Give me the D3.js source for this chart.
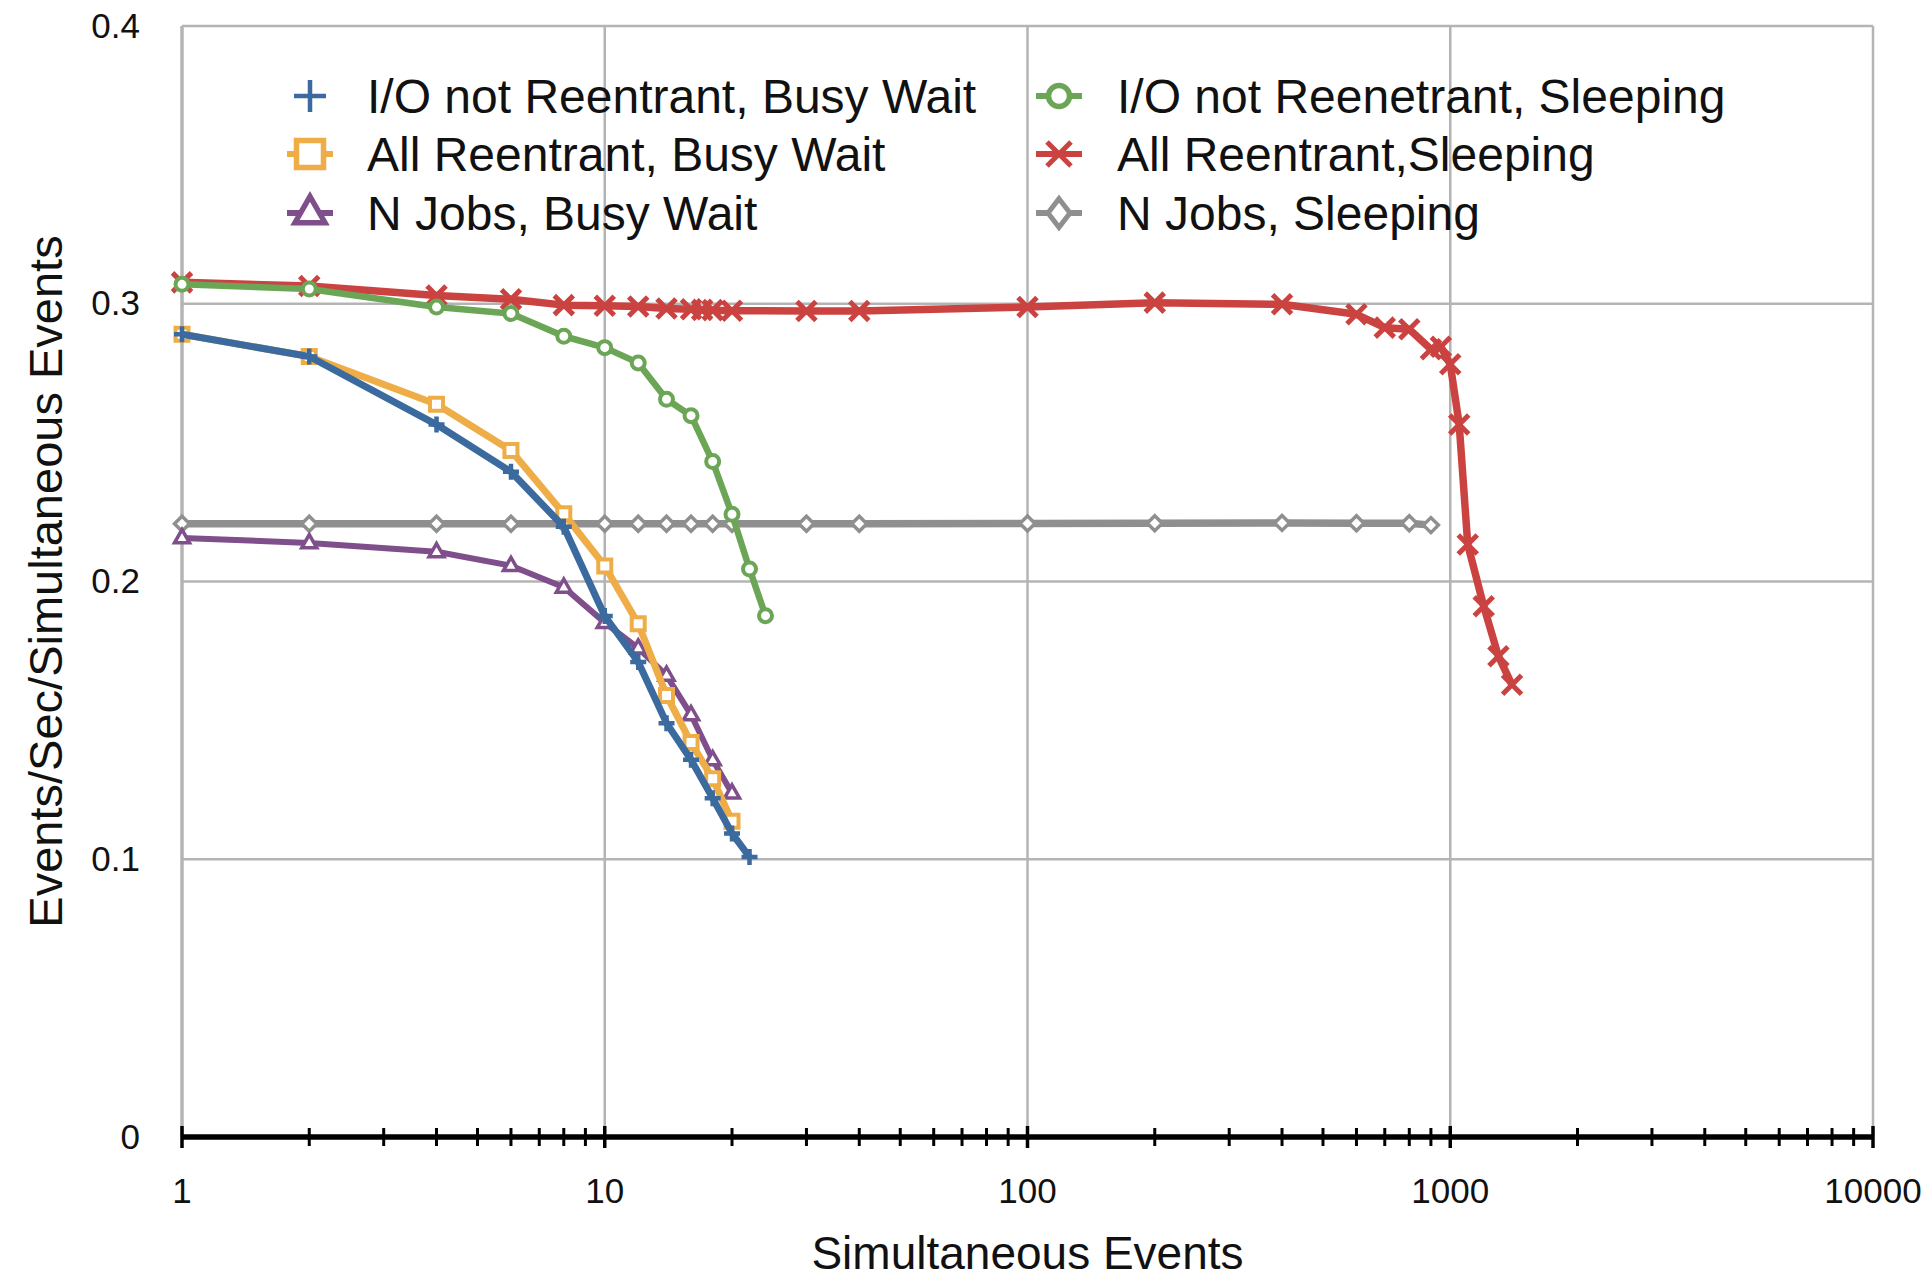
<!DOCTYPE html>
<html>
<head>
<meta charset="utf-8">
<script src="https://cdn.jsdelivr.net/npm/d3@7"></script>
<style>
  html, body { margin: 0; padding: 0; background: #fff; }
  svg { display: block; }
</style>
</head>
<body>
<svg id="chart" width="1931" height="1280"></svg>
<script>
// values
const ioBusyX = [1, 2, 4, 6, 8, 10, 12, 14, 16, 18, 20, 22];
const ioBusyY = [0.289, 0.281, 0.2565, 0.2395, 0.2197, 0.1876, 0.171, 0.149, 0.1358, 0.122, 0.1093, 0.1008];

const allBusyX = [1, 2, 4, 6, 8, 10, 12, 14, 16, 18, 20];
const allBusyY = [0.289, 0.281, 0.2638, 0.2472, 0.2244, 0.2056, 0.1848, 0.159, 0.142, 0.129, 0.1137];

const nJobsBusyX = [1, 2, 4, 6, 8, 10, 12, 14, 16, 18, 20];
const nJobsBusyY = [0.2157, 0.2139, 0.2107, 0.2057, 0.1979, 0.1852, 0.176, 0.1662, 0.152, 0.1358, 0.1238];

const ioSleepX = [1, 2, 4, 6, 8, 10, 12, 14, 16, 18, 20, 22, 24];
const ioSleepY = [0.307, 0.3053, 0.2988, 0.2965, 0.2883, 0.2842, 0.2787, 0.2656, 0.2597, 0.2432, 0.2242, 0.2045, 0.1877];

const allSleepX = [1, 2, 4, 6, 8, 10, 12, 14, 16, 17, 18, 20, 30, 40, 100, 200, 400, 600, 700, 800, 900, 950, 1000, 1050, 1100, 1200, 1300, 1400];
const allSleepY = [0.3077, 0.3064, 0.303, 0.3016, 0.2995, 0.2993, 0.299, 0.2983, 0.298, 0.2978, 0.2977, 0.2975, 0.2974, 0.2974, 0.2988, 0.3004, 0.2998, 0.2962, 0.2914, 0.2908, 0.2836, 0.2845, 0.2782, 0.2565, 0.2133, 0.1911, 0.1731, 0.1628];

const nJobsSleepX = [1, 2, 4, 6, 8, 10, 12, 14, 16, 18, 20, 30, 40, 100, 200, 400, 600, 800, 900];
const nJobsSleepY = [0.2208, 0.2208, 0.2208, 0.2208, 0.2208, 0.2208, 0.2208, 0.2208, 0.2208, 0.2208, 0.2208, 0.2208, 0.2208, 0.2209, 0.221, 0.2211, 0.221, 0.221, 0.2203];

const xTickValues = [1, 10, 100, 1000, 10000];
const yTickValues = [0, 0.1, 0.2, 0.3, 0.4];

const zip = (xs, ys) => xs.map((x, i) => ({ x, y: ys[i] }));

// draw order: first is at the bottom
const series = [
  { name: 'N Jobs, Sleeping', color: '#8f8f8f', shape: 'diamond', width: 7.5, data: zip(nJobsSleepX, nJobsSleepY) },
  { name: 'All Reentrant,Sleeping', color: '#cb4340', shape: 'cross', width: 7.5, data: zip(allSleepX, allSleepY) },
  { name: 'I/O not Reenetrant, Sleeping', color: '#6ba556', shape: 'circle', width: 6.5, data: zip(ioSleepX, ioSleepY) },
  { name: 'N Jobs, Busy Wait', color: '#7f4f8b', shape: 'triangle', width: 6, data: zip(nJobsBusyX, nJobsBusyY) },
  { name: 'All Reentrant, Busy Wait', color: '#efad47', shape: 'square', width: 7, data: zip(allBusyX, allBusyY) },
  { name: 'I/O not Reentrant, Busy Wait', color: '#3b6a9e', shape: 'plus', width: 7, data: zip(ioBusyX, ioBusyY) },
];

const legendOrder = [
  ['I/O not Reentrant, Busy Wait', 'All Reentrant, Busy Wait', 'N Jobs, Busy Wait'],
  ['I/O not Reenetrant, Sleeping', 'All Reentrant,Sleeping', 'N Jobs, Sleeping'],
];

const margin = { top: 26, right: 58, bottom: 143, left: 182 };
const width = 1931 - margin.left - margin.right;
const height = 1280 - margin.top - margin.bottom;

const svg = d3.select('#chart');
const g = svg.append('g').attr('transform', `translate(${margin.left},${margin.top})`);

const xScale = d3.scaleLog().domain([1, 10000]).range([0, width]);
const yScale = d3.scaleLinear().domain([0, 0.4]).range([height, 0]);

const markerPath = (shape, s, legend) => {
  switch (shape) {
    case 'plus':
      return `M${-s},0H${s}M0,${-s}V${s}`;
    case 'cross':
      return `M${-s},${-s}L${s},${s}M${-s},${s}L${s},${-s}`;
    case 'square':
      return `M${-s},${-s}H${s}V${s}H${-s}Z`;
    case 'triangle':
      return `M0,${-s * 1.1}L${s},${s * 0.65}L${-s},${s * 0.65}Z`;
    case 'diamond':
      return legend
        ? `M0,${-s * 1.3}L${s},0L0,${s * 1.3}L${-s},0Z`
        : `M0,${-s}L${s},0L0,${s}L${-s},0Z`;
    default:
      return `M${s},0A${s},${s} 0 1,1 ${-s},0A${s},${s} 0 1,1 ${s},0Z`;
  }
};

const markerSize = { plus: 8, cross: 9.5, square: 6.5, triangle: 7.5, diamond: 7.5, circle: 6.5 };
const markerStroke = { plus: 4.5, cross: 5, square: 4, triangle: 3.5, diamond: 3.5, circle: 4 };
const legendSize = { plus: 16, cross: 12, square: 13.5, triangle: 15, diamond: 11, circle: 10.5 };
const legendStroke = { plus: 4.5, cross: 5, square: 5.5, triangle: 5.5, diamond: 5, circle: 5.5 };
const openShape = shape => shape !== 'plus' && shape !== 'cross';

// grid
g.append('g')
  .selectAll('line')
  .data(yTickValues.filter(d => d > 0))
  .enter()
  .append('line')
  .attr('x1', 0)
  .attr('x2', width)
  .attr('y1', d => yScale(d))
  .attr('y2', d => yScale(d))
  .attr('stroke', '#b4b4b4')
  .attr('stroke-width', 2.5);

g.append('g')
  .selectAll('line')
  .data(xTickValues)
  .enter()
  .append('line')
  .attr('x1', d => xScale(d))
  .attr('x2', d => xScale(d))
  .attr('y1', 0)
  .attr('y2', height)
  .attr('stroke', '#b4b4b4')
  .attr('stroke-width', d => (d === 1 ? 3.5 : 2.5));

// y axis labels
const yAxis = d3
  .axisLeft(yScale)
  .tickValues(yTickValues)
  .tickSize(0)
  .tickPadding(42)
  .tickFormat(d => (d === 0 ? '0' : d3.format('.1f')(d)));

g.append('g')
  .call(yAxis)
  .call(a => a.select('.domain').remove())
  .selectAll('text')
  .attr('font-family', '"Liberation Sans", Arial, sans-serif')
  .attr('font-size', 35)
  .attr('fill', '#111');

// x axis: thick black line with log ticks
const minorTicks = d3.range(0, 4).flatMap(e => d3.range(2, 10).map(m => m * 10 ** e));

const xAxisG = g.append('g').attr('transform', `translate(0,${height})`);

xAxisG
  .append('line')
  .attr('x1', 0)
  .attr('x2', width)
  .attr('stroke', '#000')
  .attr('stroke-width', 5.5);

xAxisG
  .selectAll('.minor')
  .data(minorTicks)
  .enter()
  .append('line')
  .attr('class', 'minor')
  .attr('x1', d => xScale(d))
  .attr('x2', d => xScale(d))
  .attr('y1', -9)
  .attr('y2', 9)
  .attr('stroke', '#000')
  .attr('stroke-width', 3);

xAxisG
  .selectAll('.major')
  .data(xTickValues)
  .enter()
  .append('line')
  .attr('class', 'major')
  .attr('x1', d => xScale(d))
  .attr('x2', d => xScale(d))
  .attr('y1', -11)
  .attr('y2', 11)
  .attr('stroke', '#000')
  .attr('stroke-width', 3.5);

xAxisG
  .selectAll('.xlabel')
  .data(xTickValues)
  .enter()
  .append('text')
  .attr('class', 'xlabel')
  .attr('x', d => xScale(d))
  .attr('y', 66)
  .attr('text-anchor', 'middle')
  .attr('font-family', '"Liberation Sans", Arial, sans-serif')
  .attr('font-size', 35)
  .attr('fill', '#111')
  .text(d => d);

// axis titles
svg
  .append('text')
  .attr('x', margin.left + width / 2)
  .attr('y', 1269)
  .attr('text-anchor', 'middle')
  .attr('font-family', '"Liberation Sans", Arial, sans-serif')
  .attr('font-size', 46)
  .attr('fill', '#111')
  .text('Simultaneous Events');

svg
  .append('text')
  .attr('transform', `translate(62,${margin.top + height / 2}) rotate(-90)`)
  .attr('text-anchor', 'middle')
  .attr('font-family', '"Liberation Sans", Arial, sans-serif')
  .attr('font-size', 47)
  .attr('fill', '#111')
  .text('Events/Sec/Simultaneous Events');

// series
const line = d3
  .line()
  .x(d => xScale(d.x))
  .y(d => yScale(d.y));

series.forEach(s => {
  const sg = g.append('g');
  sg.append('path')
    .datum(s.data)
    .attr('d', line)
    .attr('fill', 'none')
    .attr('stroke', s.color)
    .attr('stroke-width', s.width)
    .attr('stroke-linejoin', 'round');

  sg.selectAll('path.mark')
    .data(s.data)
    .enter()
    .append('path')
    .attr('class', 'mark')
    .attr('transform', d => `translate(${xScale(d.x)},${yScale(d.y)})`)
    .attr('d', markerPath(s.shape, markerSize[s.shape]))
    .attr('fill', openShape(s.shape) ? '#fff' : 'none')
    .attr('stroke', s.color)
    .attr('stroke-width', markerStroke[s.shape]);
});

// legend
const legendCols = [310, 1059];
const legendRows = [96, 154, 213];
const legendTextX = [367, 1117];

legendOrder.forEach((col, ci) => {
  col.forEach((name, ri) => {
    const s = series.find(d => d.name === name);
    const lg = svg.append('g').attr('transform', `translate(${legendCols[ci]},${legendRows[ri]})`);
    if (s.shape !== 'plus') {
      lg.append('line')
        .attr('x1', -23)
        .attr('x2', 23)
        .attr('stroke', s.color)
        .attr('stroke-width', 6);
    }
    lg.append('path')
      .attr('d', markerPath(s.shape, legendSize[s.shape], true))
      .attr('fill', openShape(s.shape) ? '#fff' : 'none')
      .attr('stroke', s.color)
      .attr('stroke-width', legendStroke[s.shape]);
    svg
      .append('text')
      .attr('x', legendTextX[ci])
      .attr('y', legendRows[ri] + 17)
      .attr('font-family', '"Liberation Sans", Arial, sans-serif')
      .attr('font-size', 48)
      .attr('fill', '#111')
      .text(name);
  });
});
</script>
</body>
</html>
